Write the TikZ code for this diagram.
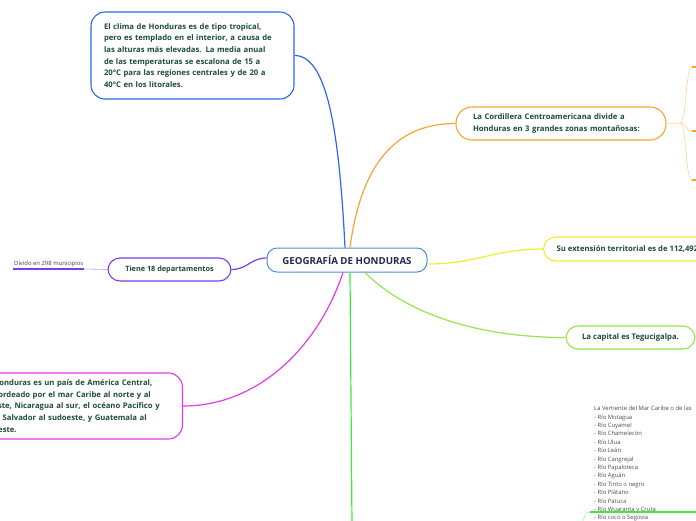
\documentclass[tikz,border=0pt]{standalone}
\usepackage{fontspec}
\setmainfont{Open Sans}
\usetikzlibrary{positioning}
\definecolor{ink}{HTML}{1D4B3C}
\definecolor{navy}{HTML}{1C2B4F}
\definecolor{rootblue}{HTML}{4A8ED6}
\definecolor{climblue}{HTML}{2F66F0}
\definecolor{orng}{HTML}{F6A532}
\definecolor{paleorng}{HTML}{FCD9A4}
\definecolor{yel}{HTML}{EDEF2C}
\definecolor{lime}{HTML}{94E64A}
\definecolor{purp}{HTML}{7A3CF0}
\definecolor{palepurp}{HTML}{C4A8F8}
\definecolor{magen}{HTML}{E23BE6}
\definecolor{grn}{HTML}{3DEB3D}
\definecolor{palegrn}{HTML}{B6F5A8}
\tikzset{
  % The root of the map
  central/.style={
    draw=rootblue, fill=white, line width=1pt, rounded corners=10pt,
    font=\fontsize{9.7}{11}\selectfont\bfseries, text=navy,
    minimum width=160pt, minimum height=24pt, inner sep=0pt},
  % A main topic box
  topic/.style={
    draw=#1, fill=white, line width=1.1pt, rounded corners=12pt,
    align=left, font=\fontsize{7.7}{11.6}\selectfont\bfseries, text=ink,
    inner xsep=13pt, inner ysep=0pt},
  % A small subtopic with an underline
  sub/.style={
    font=\fontsize{5.9}{8.4}\selectfont, text=black!75, align=left,
    inner xsep=1pt, inner ysep=2pt},
  % Branches
  link/.style={draw=#1, line width=1.2pt},
  twig/.style={draw=#1, line width=0.7pt},
  uline/.style={draw=#1, line width=1.6pt},
}

\begin{document}
\begin{tikzpicture}[x=1pt, y=-1pt]
  \useasboundingbox (0,0) rectangle (696,520);
  \clip (0,0) rectangle (696,520);

  \node[central] (geo) at (347,260) {GEOGRAFÍA DE HONDURAS};

  \node[topic=climblue, rounded corners=14pt, text width=177pt,
        minimum height=87pt] (clima) at (192.5,55.5)
    {El clima de Honduras es de tipo tropical,\\
     pero es templado en el interior, a causa de\\
     las alturas más elevadas. La media anual\\
     de las temperaturas se escalona de 15 a\\
     20°C para las regiones centrales y de 20 a\\
     40°C en los litorales.};

  \node[topic=orng, rounded corners=16pt, text width=176pt, inner xsep=17pt,
        minimum height=33pt] (cordillera) at (561,123.5)
    {La Cordillera Centroamericana divide a\\
     Honduras en 3 grandes zonas montañosas:};

  \node[topic=yel, anchor=west, minimum height=24pt] (extension) at (543,249)
    {Su extensión territorial es de 112,492 km².};

  \node[topic=lime, align=center, minimum width=129pt,
        minimum height=23pt] (capital) at (630.5,337.5)
    {La capital es Tegucigalpa.};

  \node[topic=purp, align=center, minimum width=123pt,
        minimum height=23pt, font=\fontsize{7.3}{11.6}\selectfont\bfseries] (tiene) at (169.5,269.5)
    {Tiene 18 departamentos};

  \node[topic=magen, anchor=east, rounded corners=14pt, text width=175pt,
        inner xsep=14pt, minimum height=66pt] (ubicacion) at (183,406)
    {Honduras es un país de América Central,\\
     bordeado por el mar Caribe al norte y al\\
     este, Nicaragua al sur, el océano Pacífico y\\
     El Salvador al sudoeste, y Guatemala al\\
     oeste.};

  \node[sub, anchor=south west] (municipios) at (13,269) {Divido en 298 municipios};

  \node[sub, anchor=north west, text=black!70] (rios) at (593,404)
    {La Vertiente del Mar Caribe o de las\\
     -  Río Motagua\\
     - Río Cuyamel\\
     - Río Chamelecón\\
     - Río Ulua\\
     - Río Leán\\
     - Río Cangrejal\\
     - Río Papaloteca\\
     - Río Aguán\\
     - Río Tinto o negro\\
     - Río Plátano\\
     - Río Patuca\\
     - Río Wuaranta y Cruta\\
     - Río coco o Segovia};

  % branch ends
  \coordinate (split) at (680,123);
  \coordinate (zonaA) at (692,67);
  \coordinate (zonaB) at (692,131);
  \coordinate (zonaC) at (692,180);
  \coordinate (abajo) at (352,525);
  \coordinate (rama) at (590,512);
  \coordinate (ramaini) at (582,524);

  % main branches
  \draw[link=climblue] ([xshift=-2pt]geo.north) .. controls +(-6,-120) and +(32,0) .. (clima.east);
  \draw[link=orng] ([xshift=3pt]geo.north) .. controls +(12,-90) and +(-55,0) .. (cordillera.west);
  \draw[link=yel] ([yshift=-4pt]geo.east) .. controls +(50,0) and +(-50,0) .. (extension.west);
  \draw[link=lime] ([xshift=18pt]geo.south) .. controls +(40,40) and +(-90,0) .. (capital.west);
  \draw[link=purp] (tiene.east) .. controls +(16,0) and +(-16,0) .. ([yshift=2pt]geo.west);
  \draw[link=magen] ([xshift=-4pt]geo.south) .. controls +(-25,75) and +(75,0) .. (ubicacion.east);
  \draw[link=grn] ([xshift=3pt]geo.south) -- (abajo);

  % orange sub branches
  \draw[twig=paleorng] (cordillera.east) -- (split);
  \foreach \z in {zonaA,zonaB,zonaC}{
    \draw[twig=paleorng] (split) .. controls +(7,0) and +(-7,0) .. (\z);
    \draw[uline=orng] (\z) -- ++(10,0);
  }

  % purple sub branch
  \draw[twig=palepurp] (tiene.west) -- (municipios.south east);
  \draw[uline=purp] (municipios.south west) -- (municipios.south east);

  % green sub branch
  \draw[twig=palegrn] (ramaini) .. controls +(2,-8) and +(-4,0) .. (rama);
  \draw[uline=grn] (rama) -- ++(110,0);

\end{tikzpicture}
\end{document}
